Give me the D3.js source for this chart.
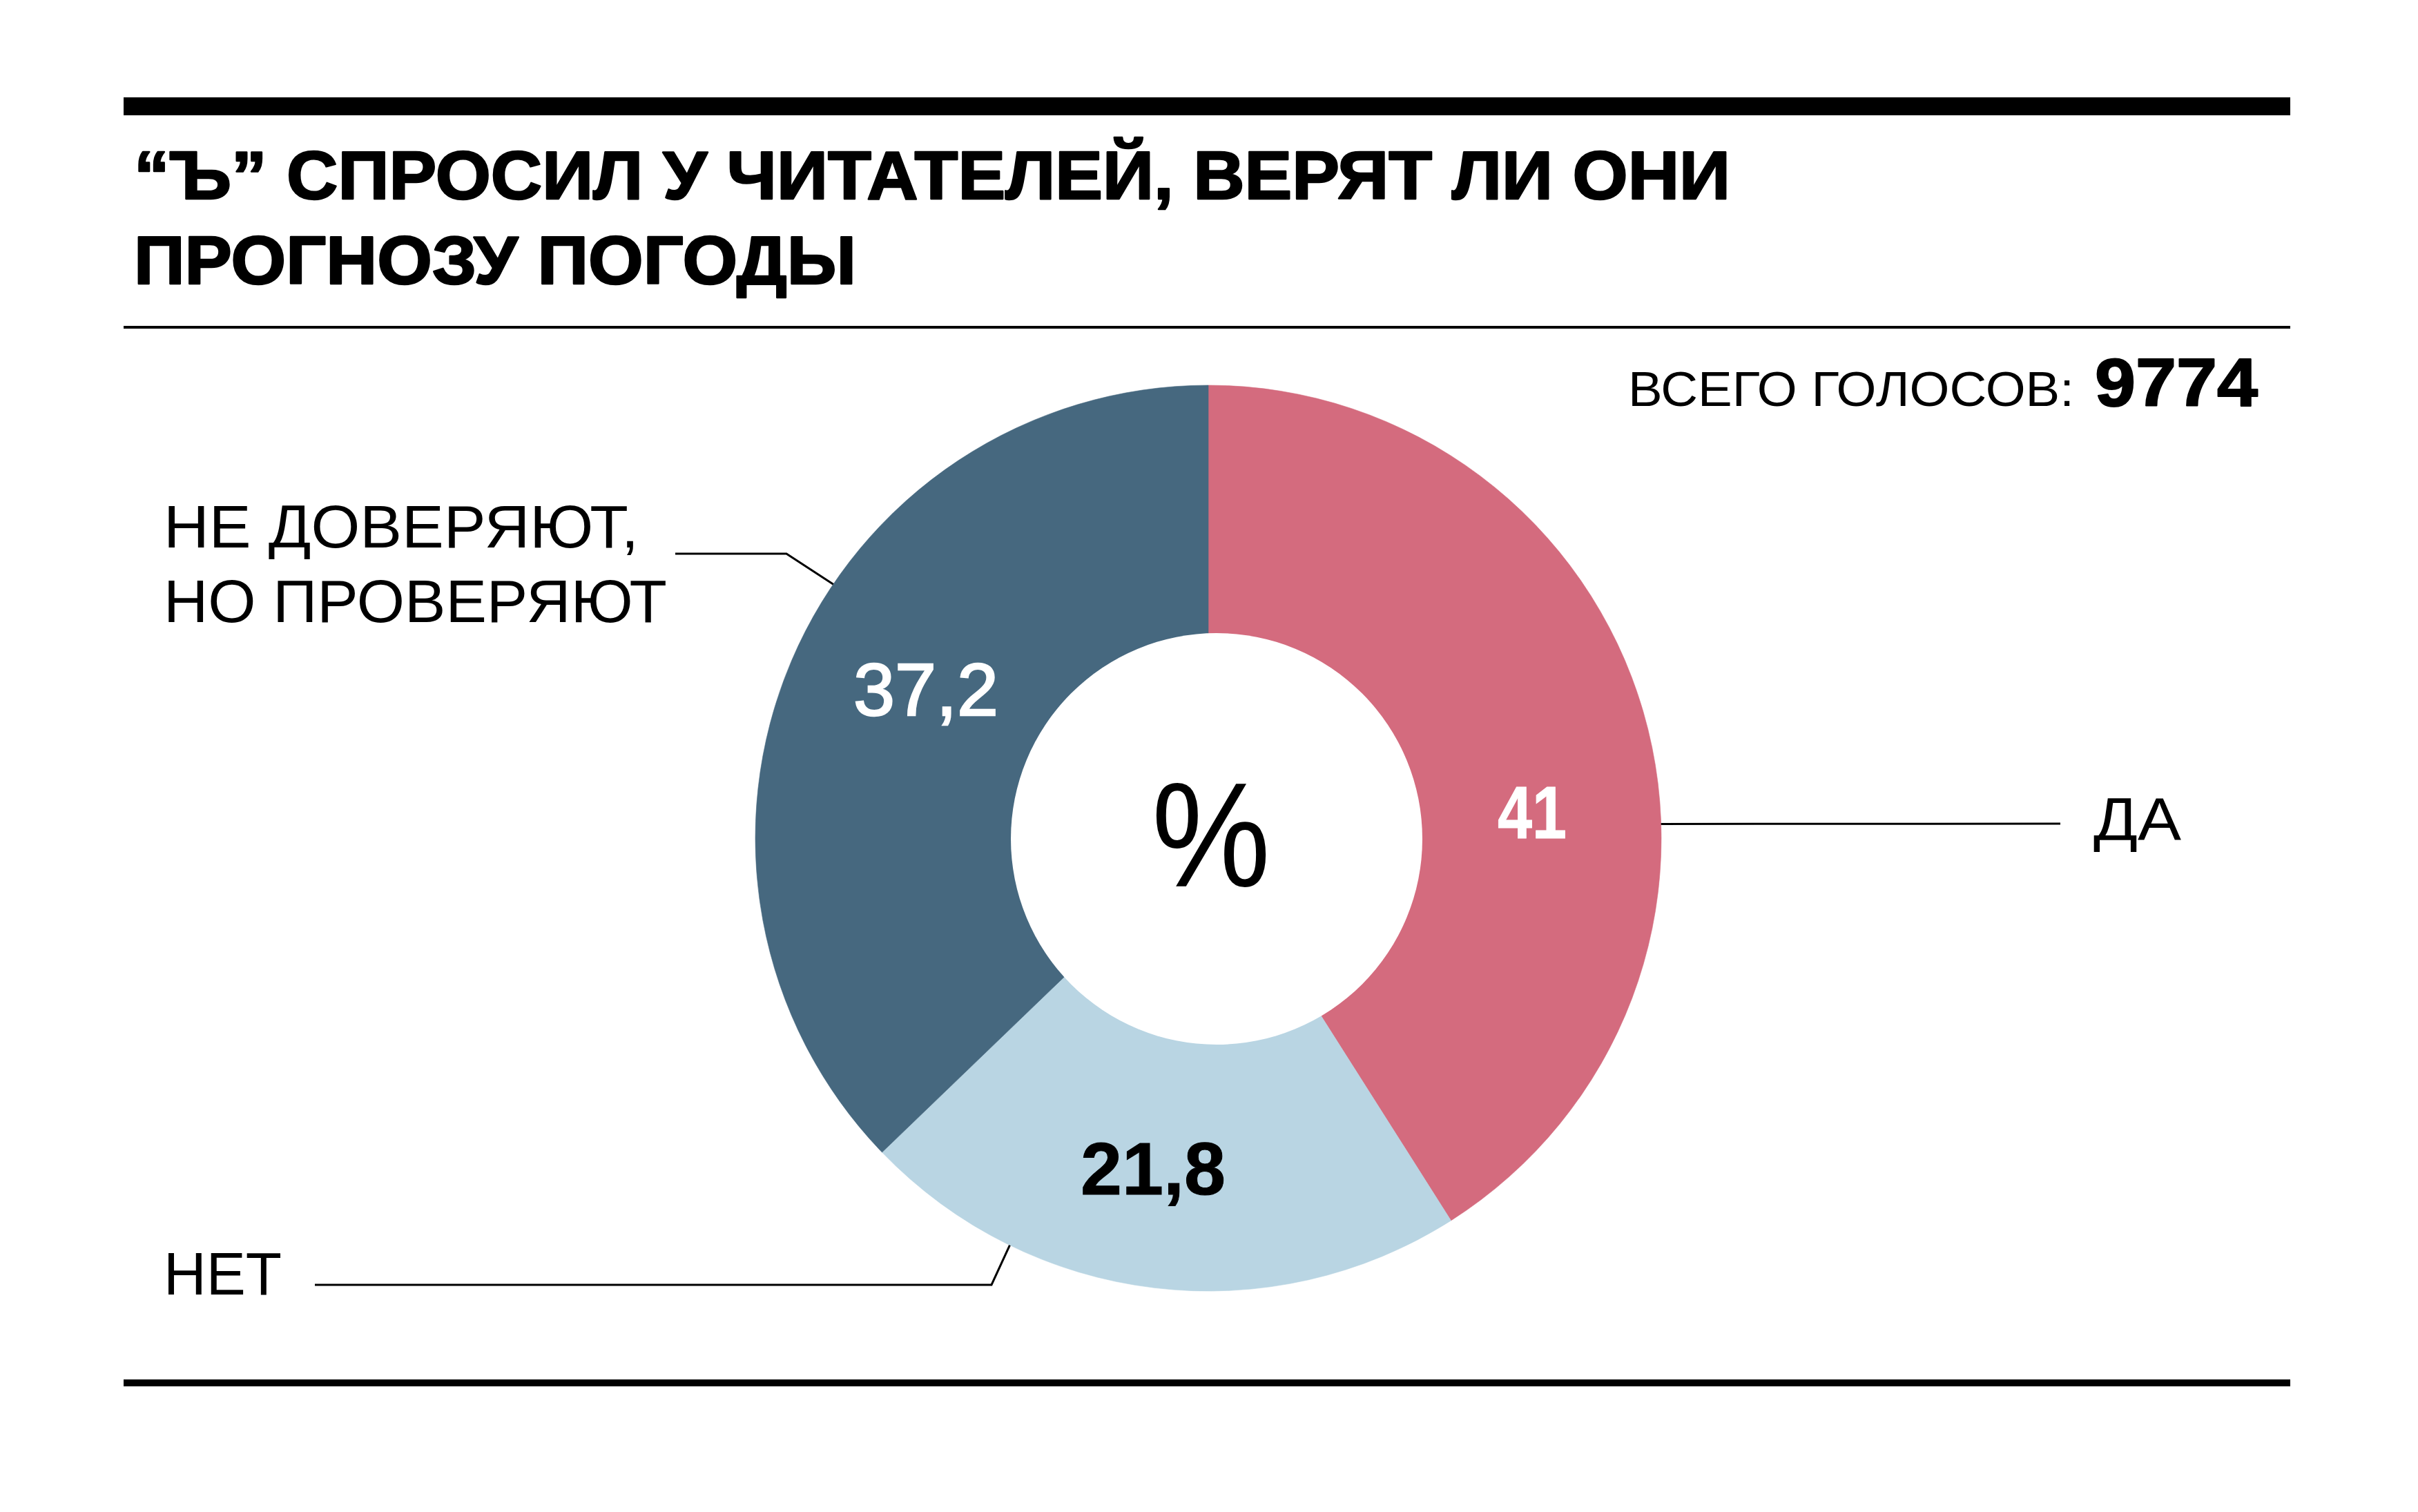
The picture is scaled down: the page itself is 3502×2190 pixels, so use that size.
<!DOCTYPE html>
<html>
<head>
<meta charset="utf-8">
<script src="https://cdn.jsdelivr.net/npm/d3@7"></script>
<style>
  html, body { margin: 0; padding: 0; background: #fff; }
  svg { display: block; }
</style>
</head>
<body>
<script>
// ---- data ----
const categories = ["ДА", "НЕТ", "НЕ ДОВЕРЯЮТ, НО ПРОВЕРЯЮТ"];
const values = [41, 21.8, 37.2];
const valueLabels = ["41", "21,8", "37,2"];
const sliceColors = ["#D46B7E", "#B9D5E3", "#46687F"];
const labelColors = ["#ffffff", "#000000", "#ffffff"];
const titleLines = ["“Ъ” СПРОСИЛ У ЧИТАТЕЛЕЙ, ВЕРЯТ ЛИ ОНИ", "ПРОГНОЗУ ПОГОДЫ"];
const totalLabel = "ВСЕГО ГОЛОСОВ:";
const totalVotes = 9774;
const centerSymbol = "%";

// ---- layout ----
const W = 3502, H = 2190;
const cx = 1750, cy = 1214, rOuter = 656;
const hole = { dx: 12, dy: 1, r: 298 };

const svg = d3.select("body").append("svg")
  .attr("width", W).attr("height", H)
  .attr("viewBox", `0 0 ${W} ${H}`);
svg.append("rect").attr("width", W).attr("height", H).attr("fill", "#fff");

// rules
svg.append("rect").attr("x", 179).attr("y", 141).attr("width", 3138).attr("height", 26).attr("fill", "#000");
svg.append("rect").attr("x", 179).attr("y", 472).attr("width", 3138).attr("height", 4).attr("fill", "#000");
svg.append("rect").attr("x", 179).attr("y", 1998).attr("width", 3138).attr("height", 10).attr("fill", "#000");

// title
const titleFont = "'Liberation Sans', Arial, sans-serif";
const titleGeo = [{ y: 288, len: 2312 }, { y: 411, len: 1046 }];
svg.selectAll("text.title").data(titleLines).join("text")
  .attr("class", "title")
  .attr("x", 194)
  .attr("y", (d, i) => titleGeo[i].y)
  .attr("textLength", (d, i) => titleGeo[i].len)
  .attr("lengthAdjust", "spacingAndGlyphs")
  .attr("font-family", titleFont)
  .attr("font-weight", 700)
  .attr("font-size", 99)
  .attr("fill", "#000")
  .attr("stroke", "#000")
  .attr("stroke-width", 2.5)
  .attr("stroke-linejoin", "round")
  .text(d => d);

// total votes
svg.append("text")
  .attr("x", 2358).attr("y", 588)
  .attr("textLength", 646).attr("lengthAdjust", "spacingAndGlyphs")
  .attr("font-family", titleFont).attr("font-size", 71).attr("fill", "#000")
  .text(totalLabel);
svg.append("text")
  .attr("x", 3034).attr("y", 588)
  .attr("textLength", 236).attr("lengthAdjust", "spacingAndGlyphs")
  .attr("font-family", titleFont).attr("font-weight", 700).attr("font-size", 98).attr("fill", "#000")
  .attr("stroke", "#000").attr("stroke-width", 2).attr("stroke-linejoin", "round")
  .text(d3.format("d")(totalVotes));

// donut
const pie = d3.pie().sort(null).value(d => d)(values);
const arc = d3.arc().innerRadius(0).outerRadius(rOuter);
const g = svg.append("g").attr("transform", `translate(${cx},${cy})`);
g.selectAll("path.slice").data(pie).join("path")
  .attr("class", "slice")
  .attr("d", arc)
  .attr("fill", (d, i) => sliceColors[i])
  .attr("stroke", (d, i) => sliceColors[i])
  .attr("stroke-width", 0.6);
g.append("circle").attr("cx", hole.dx).attr("cy", hole.dy).attr("r", hole.r).attr("fill", "#fff");

// center symbol
g.append("text")
  .attr("x", -82).attr("y", 70)
  .attr("textLength", 172).attr("lengthAdjust", "spacingAndGlyphs")
  .attr("font-family", "'Liberation Sans', Arial, sans-serif")
  .attr("font-weight", 400)
  .attr("font-size", 216)
  .attr("fill", "#000")
  .text(centerSymbol);

// value labels (positions relative to the donut centre)
const valuePos = [
  { x: 469, y: 0, w: 100, weight: 700, sw: 1 },
  { x: -80, y: 516, w: 210, weight: 700, sw: 1 },
  { x: -409, y: -178, w: 210, weight: 400, sw: 2.5 }
];
g.selectAll("text.val").data(pie).join("text")
  .attr("class", "val")
  .attr("x", (d, i) => valuePos[i].x - valuePos[i].w / 2)
  .attr("y", (d, i) => valuePos[i].y)
  .attr("textLength", (d, i) => valuePos[i].w)
  .attr("lengthAdjust", "spacingAndGlyphs")
  .attr("font-family", "'Liberation Sans', Arial, sans-serif")
  .attr("font-weight", (d, i) => valuePos[i].weight)
  .attr("font-size", 108)
  .attr("fill", (d, i) => labelColors[i])
  .attr("stroke", (d, i) => labelColors[i])
  .attr("stroke-width", (d, i) => valuePos[i].sw)
  .text((d, i) => valueLabels[i]);

// leader lines: anchor angle on the outer edge + elbow points (absolute)
const onEdge = deg => {
  const a = deg * Math.PI / 180;
  return [cx + rOuter * Math.sin(a), cy - rOuter * Math.cos(a)];
};
const leaders = [
  { angle: 88.2, pts: [[2984, 1193]] },
  { angle: 206, pts: [[1436, 1861], [456, 1861]] },
  { angle: 304.1, pts: [[1139, 802], [978, 802]] }
];
const line = d3.line();
svg.selectAll("path.leader").data(leaders).join("path")
  .attr("class", "leader")
  .attr("d", d => line([onEdge(d.angle), ...d.pts]))
  .attr("fill", "none").attr("stroke", "#000").attr("stroke-width", 3);

// category labels
const labelFont = "'Liberation Sans', Arial, sans-serif";
const catLines = [
  [{ t: "ДА", x: 3032, y: 1217, len: 127 }],
  [{ t: "НЕТ", x: 237, y: 1875, len: 171 }],
  [{ t: "НЕ ДОВЕРЯЮТ,", x: 237, y: 793, len: 688 }, { t: "НО ПРОВЕРЯЮТ", x: 237, y: 901, len: 729 }]
];
categories.forEach((c, i) => {
  svg.selectAll(null).data(catLines[i]).join("text")
    .attr("x", d => d.x).attr("y", d => d.y)
    .attr("textLength", d => d.len).attr("lengthAdjust", "spacingAndGlyphs")
    .attr("font-family", labelFont).attr("font-size", 88).attr("fill", "#000")
    .text(d => d.t);
});
</script>
</body>
</html>
